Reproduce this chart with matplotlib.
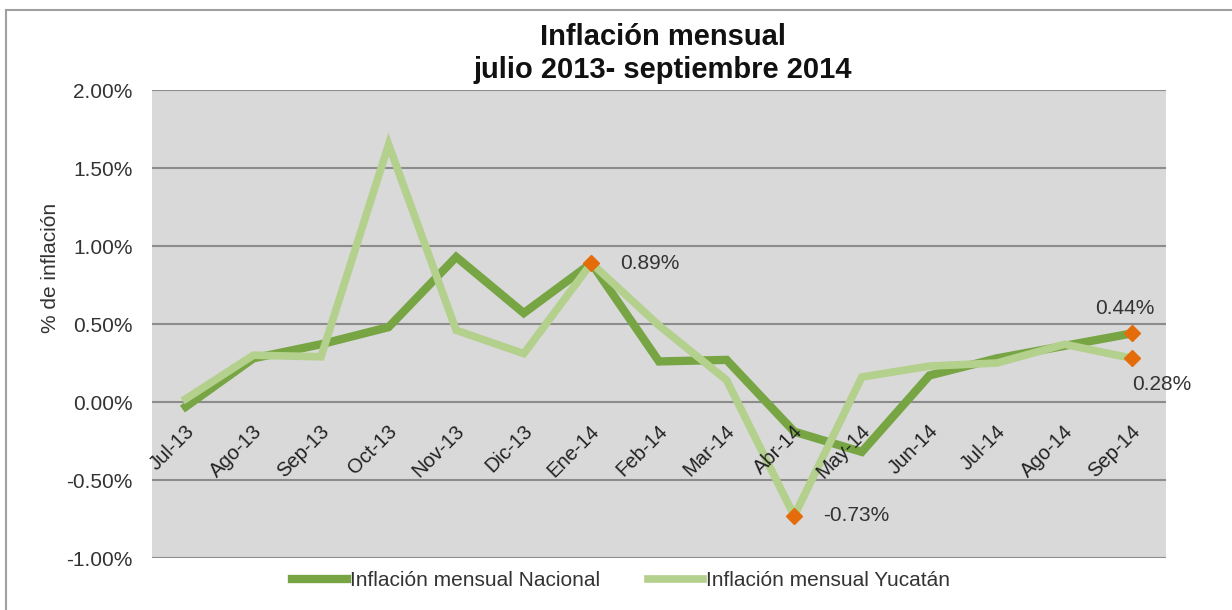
import matplotlib
matplotlib.use('Agg')
import matplotlib.pyplot as plt
from matplotlib.lines import Line2D
import numpy as np

plt.rcParams['font.family'] = ['Liberation Sans', 'DejaVu Sans']

months = ['Jul-13', 'Ago-13', 'Sep-13', 'Oct-13', 'Nov-13', 'Dic-13', 'Ene-14',
          'Feb-14', 'Mar-14', 'Abr-14', 'May-14', 'Jun-14', 'Jul-14', 'Ago-14', 'Sep-14']
nacional = [-0.03, 0.28, 0.37, 0.48, 0.93, 0.57, 0.89,
            0.26, 0.27, -0.19, -0.32, 0.17, 0.28, 0.36, 0.44]
yucatan = [0.02, 0.30, 0.29, 1.65, 0.46, 0.31, 0.89,
           0.49, 0.14, -0.73, 0.16, 0.23, 0.25, 0.37, 0.28]
# highlighted points: (series, index, label)
highlights = [('nac', 6, '0.89%'), ('yuc', 9, '-0.73%'),
              ('nac', 14, '0.44%'), ('yuc', 14, '0.28%')]
yticks = [-1.0, -0.5, 0.0, 0.5, 1.0, 1.5, 2.0]

c_nac = '#77a543'
c_yuc = '#b3d08c'
c_mark = '#e46c0a'
c_text = '#333333'
fs = 15

fig = plt.figure(figsize=(12.32, 6.10), dpi=100)
ax = fig.add_axes([152 / 1232, 1 - 558 / 610, (1166 - 152) / 1232, (558 - 90) / 610])
ax.set_facecolor('#d9d9d9')

x = np.arange(len(months))
ax.plot(x, nacional, color=c_nac, lw=6, solid_joinstyle='miter', zorder=3)
ax.plot(x, yucatan, color=c_yuc, lw=5.5, solid_joinstyle='miter', zorder=4)

series = {'nac': nacional, 'yuc': yucatan}
for s, i, lab in highlights:
    v = series[s][i]
    ax.plot(i, v, marker='D', ms=8, color=c_mark, mec=c_mark, zorder=5)
    if i == 14 and s == 'nac':
        off, ha, va = (-5, 11), 'center', 'bottom'
    elif i == 14:
        off, ha, va = (21, -12), 'center', 'top'
    else:
        off, ha, va = (21, 0), 'left', 'center'
    ax.annotate(lab, (i, v), xytext=off, textcoords='offset points',
                ha=ha, va=va, fontsize=fs, color=c_text)

ax.set_xlim(-0.5, len(months) - 0.5)
ax.set_ylim(-1.0, 2.0)
ax.set_yticks(yticks)
ax.set_yticklabels(['%.2f%%' % t for t in yticks], fontsize=fs, color=c_text)
ax.tick_params(axis='y', length=0, pad=14)
ax.set_xticks([])
ax.grid(axis='y', color='#8c8c8c', lw=1.5, zorder=1)
ax.set_axisbelow(True)
for sp in ax.spines.values():
    sp.set_visible(False)

# category labels hang below the zero line, drawn over the lines
for i, m in enumerate(months):
    ax.annotate(m, (i, 0), xytext=(-1, -14), textcoords='offset points',
                rotation=45, ha='right', va='top', rotation_mode='anchor',
                fontsize=14.5, color='#222222', zorder=6)

fig.text(663 / 1232, 1 - 37 / 610, 'Inflación mensual', ha='center', va='center',
         fontsize=21, fontweight='bold', color='#111111')
fig.text(663 / 1232, 1 - 70 / 610, 'julio 2013- septiembre 2014', ha='center', va='center',
         fontsize=21, fontweight='bold', color='#111111')
fig.text(50 / 1232, 1 - 268 / 610, '% de inflación', rotation=90,
         ha='center', va='center', fontsize=fs, color=c_text)

handles = [Line2D([], [], color=c_nac, lw=6), Line2D([], [], color=c_yuc, lw=5.5)]
fig.legend(handles, ['Inflación mensual Nacional', 'Inflación mensual Yucatán'],
           loc='center', bbox_to_anchor=(621 / 1232, 1 - 581 / 610), ncol=2, frameon=False,
           fontsize=fs, handlelength=2.65, handletextpad=0.15, columnspacing=2.3,
           labelcolor=c_text)

# outer frame
fig.add_artist(Line2D([6 / 1232, 1], [1 - 10 / 610, 1 - 10 / 610], color='#a0a0a0', lw=1.5))
fig.add_artist(Line2D([6 / 1232, 6 / 1232], [0, 1 - 10 / 610], color='#a0a0a0', lw=1.5))

fig.savefig('out.png', dpi=100)
